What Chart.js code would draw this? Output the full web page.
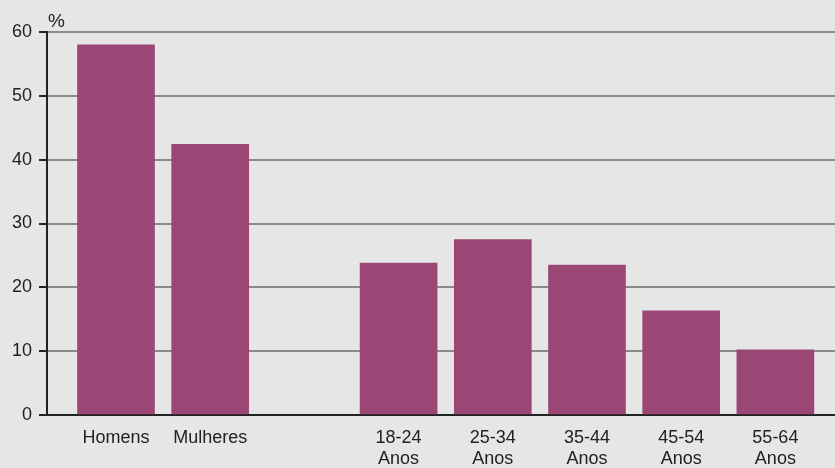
<!DOCTYPE html>
<html>
<head>
<meta charset="utf-8">
<script src="https://cdn.jsdelivr.net/npm/chart.js@4.4.1/dist/chart.umd.min.js"></script>
<style>
  html, body { margin: 0; padding: 0; background: #e6e6e6; }
  #wrap { width: 835px; height: 468px; position: relative; }
</style>
</head>
<body>
<div id="wrap"><canvas id="c" width="835" height="468"></canvas></div>
<script>
// ---- data ----
const tickLabels = [['Homens'], ['Mulheres'], [''], ['18-24', 'Anos'], ['25-34', 'Anos'], ['35-44', 'Anos'], ['45-54', 'Anos'], ['55-64', 'Anos']];
const values = [58.0, 42.4, null, 23.8, 27.5, 23.5, 16.3, 10.2];
const yTicks = [0, 10, 20, 30, 40, 50, 60];
const unitLabel = '%';

const FONT = '"Liberation Sans", Arial, Helvetica, sans-serif';
const TEXT = '#222222';
const BAR = '#9a4776';
const GRID = '#8a8a8a';

const points = values.map((v, i) => ({ x: i, y: v }));

const bgPlugin = {
  id: 'bg',
  beforeDraw(chart) {
    const ctx = chart.ctx;
    ctx.save();
    ctx.fillStyle = '#e6e6e6';
    ctx.fillRect(0, 0, chart.width, chart.height);
    ctx.restore();
  },
  afterDraw(chart) {
    const ctx = chart.ctx;
    const a = chart.chartArea;
    ctx.save();
    ctx.fillStyle = TEXT;
    ctx.font = '19px ' + FONT;
    ctx.textAlign = 'left';
    ctx.textBaseline = 'alphabetic';
    ctx.fillText(unitLabel, a.left + 1, a.top - 5);
    ctx.restore();
  }
};

new Chart(document.getElementById('c'), {
  type: 'bar',
  data: {
    datasets: [{
      data: points,
      backgroundColor: BAR,
      borderWidth: 0,
      barThickness: 77
    }]
  },
  options: {
    responsive: false,
    animation: false,
    devicePixelRatio: 1,
    layout: { padding: { top: 32, right: 0, left: 0, bottom: 0 } },
    plugins: { legend: { display: false }, tooltip: { enabled: false } },
    scales: {
      x: {
        type: 'linear',
        offset: false,
        min: -0.7325,
        max: 7.633,
        afterBuildTicks(axis) { axis.ticks = tickLabels.map((_, i) => ({ value: i })); },
        afterFit(axis) { axis.height = 53; },
        grid: { display: false, drawTicks: false, offset: false },
        border: { display: true, color: TEXT, width: 2 },
        ticks: {
          autoSkip: false,
          maxRotation: 0,
          minRotation: 0,
          padding: 12,
          color: TEXT,
          font: { family: FONT, size: 18, lineHeight: 1.2 },
          callback(value) { return tickLabels[Math.round(value)]; }
        }
      },
      y: {
        min: 0,
        max: 60,
        afterBuildTicks(axis) { axis.ticks = yTicks.map(v => ({ value: v })); },
        afterFit(axis) { axis.width = 47; },
        grid: {
          color: (c) => (c.tick && c.tick.value === 0 ? 'rgba(0,0,0,0)' : GRID),
          lineWidth: 2,
          tickLength: 8,
          tickColor: TEXT,
          tickWidth: 2
        },
        border: { display: true, color: TEXT, width: 2 },
        ticks: {
          padding: 7,
          color: TEXT,
          font: { family: FONT, size: 18 }
        }
      }
    }
  },
  plugins: [bgPlugin]
});
</script>
</body>
</html>
